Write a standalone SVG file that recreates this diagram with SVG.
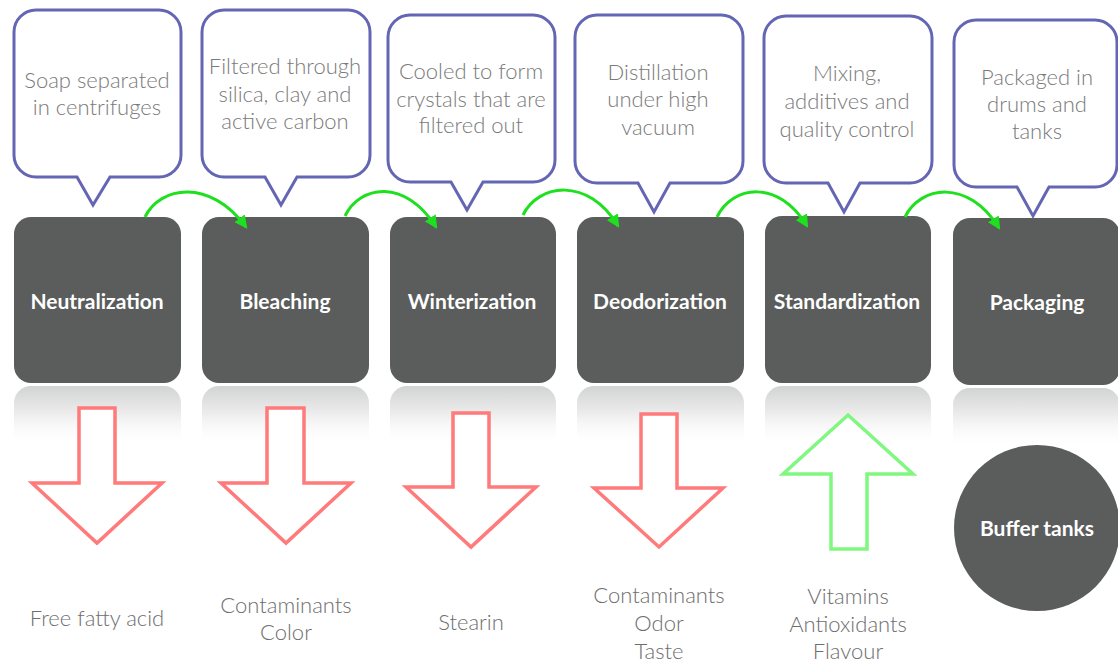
<svg xmlns="http://www.w3.org/2000/svg" width="1118" height="663" viewBox="0 0 1118 663">
<defs>
<linearGradient id="refl" x1="0" y1="0" x2="0" y2="1">
<stop offset="0" stop-color="#d2d3d3"/>
<stop offset="0.45" stop-color="#ececec"/>
<stop offset="1" stop-color="#ffffff" stop-opacity="0"/>
</linearGradient>
<marker id="gh" viewBox="0 0 12 12" refX="10" refY="6" markerWidth="13" markerHeight="13" markerUnits="userSpaceOnUse" orient="auto">
<path d="M0,0 L12,6 L0,12 Z" fill="#1ee01e"/>
</marker>
<style>
.call{fill:#fff;stroke:#6466b4;stroke-width:3}
.box{fill:#5a5d5c}
.refl{fill:url(#refl)}
.lbl{font-family:Lato,"Liberation Sans",sans-serif;font-weight:700;font-size:21px;fill:#fff;text-anchor:middle}
.ct{font-family:Lato,"Liberation Sans",sans-serif;font-weight:300;font-size:22px;fill:#7a7a7a;text-anchor:middle}
.bt{font-family:Lato,"Liberation Sans",sans-serif;font-weight:300;font-size:22px;fill:#6e6e6e;text-anchor:middle}
.red{fill:#fff;stroke:#ff7a7a;stroke-width:3.5}
.grn{fill:#fff;stroke:#80f880;stroke-width:3.5}
.con{fill:none;stroke:#1ee01e;stroke-width:3;marker-end:url(#gh)}
</style>
</defs>
<rect width="1118" height="663" fill="#fff"/>

<g id="callouts">
<g id="callout1"><path class="call" d="M36,10 H159 A22 22 0 0 1 181,32 V155 A22 22 0 0 1 159,177 H110 L93,205 L77,177 H36 A22 22 0 0 1 14,155 V32 A22 22 0 0 1 36,10 Z"/>
<text class="ct" x="97" y="88">Soap separated</text><text class="ct" x="97" y="115">in centrifuges</text></g>
<g id="callout2"><path class="call" d="M224,10 H348 A22 22 0 0 1 370,32 V155 A22 22 0 0 1 348,177 H297 L281,205 L265,177 H224 A22 22 0 0 1 202,155 V32 A22 22 0 0 1 224,10 Z"/>
<text class="ct" x="285" y="74">Filtered through</text><text class="ct" x="285" y="102">silica, clay and</text><text class="ct" x="285" y="129">active carbon</text></g>
<g id="callout3"><path class="call" d="M410,15 H533 A22 22 0 0 1 555,37 V160 A22 22 0 0 1 533,182 H483 L467,210 L451,182 H410 A22 22 0 0 1 388,160 V37 A22 22 0 0 1 410,15 Z"/>
<text class="ct" x="471" y="79">Cooled to form</text><text class="ct" x="471" y="107">crystals that are</text><text class="ct" x="471" y="133">filtered out</text></g>
<g id="callout4"><path class="call" d="M597,15 H721 A22 22 0 0 1 743,37 V161 A22 22 0 0 1 721,183 H670 L654,212 L638,183 H597 A22 22 0 0 1 575,161 V37 A22 22 0 0 1 597,15 Z"/>
<text class="ct" x="658" y="80">Distillation</text><text class="ct" x="658" y="107">under high</text><text class="ct" x="658" y="135">vacuum</text></g>
<g id="callout5"><path class="call" d="M786,16 H910 A22 22 0 0 1 932,38 V161 A22 22 0 0 1 910,183 H860 L844,212 L828,183 H786 A22 22 0 0 1 764,161 V38 A22 22 0 0 1 786,16 Z"/>
<text class="ct" x="847" y="81">Mixing,</text><text class="ct" x="847" y="109">additives and</text><text class="ct" x="847" y="137">quality control</text></g>
<g id="callout6"><path class="call" d="M976,20 H1095 A22 22 0 0 1 1117,42 V165 A22 22 0 0 1 1095,187 H1049 L1033,216 L1017,187 H976 A22 22 0 0 1 954,165 V42 A22 22 0 0 1 976,20 Z"/>
<text class="ct" x="1037" y="85">Packaged in</text><text class="ct" x="1037" y="112">drums and</text><text class="ct" x="1037" y="139">tanks</text></g>
</g>

<g id="reflections">
<path class="refl" d="M14,403 A17 17 0 0 1 31,386 H164 A17 17 0 0 1 181,403 V446 H14 Z"/>
<path class="refl" d="M202,403 A17 17 0 0 1 219,386 H352 A17 17 0 0 1 369,403 V446 H202 Z"/>
<path class="refl" d="M390,403 A17 17 0 0 1 407,386 H539 A17 17 0 0 1 556,403 V446 H390 Z"/>
<path class="refl" d="M577,403 A17 17 0 0 1 594,386 H727 A17 17 0 0 1 744,403 V446 H577 Z"/>
<path class="refl" d="M765,403 A17 17 0 0 1 782,386 H914 A17 17 0 0 1 931,403 V446 H765 Z"/>
<path class="refl" d="M953,405 A17 17 0 0 1 970,388 H1103 A17 17 0 0 1 1120,405 V448 H953 Z"/>
</g>

<g id="n1"><rect class="box" x="14" y="217" width="167" height="166" rx="17"/><text class="lbl" x="97" y="309">Neutralization</text></g>
<g id="n2"><rect class="box" x="202" y="217" width="167" height="166" rx="17"/><text class="lbl" x="285" y="309">Bleaching</text></g>
<g id="n3"><rect class="box" x="390" y="217" width="166" height="166" rx="17"/><text class="lbl" x="472" y="309">Winterization</text></g>
<g id="n4"><rect class="box" x="577" y="217" width="167" height="166" rx="17"/><text class="lbl" x="660" y="309">Deodorization</text></g>
<g id="n5"><rect class="box" x="765" y="216" width="166" height="167" rx="17"/><text class="lbl" x="847" y="309">Standardization</text></g>
<g id="n6"><rect class="box" x="953" y="218" width="167" height="167" rx="17"/><text class="lbl" x="1037" y="310">Packaging</text></g>

<g id="connectors">
<path class="con" d="M145,217 C160,186 210,178 246,227"/>
<path class="con" d="M345,216 C360,185 405,178 436,227"/>
<path class="con" d="M523,215 C538,184 588,176 618,226"/>
<path class="con" d="M717,217 C732,186 778,178 807,226"/>
<path class="con" d="M905,217 C920,186 968,178 999,228"/>
</g>

<g id="outputs">
<g id="a1"><polygon class="red" points="79,408 115,408 115,483 162,483 97,543 32,483 79,483"/><text class="bt" x="97" y="626">Free fatty acid</text></g>
<g id="a2"><polygon class="red" points="267,408 304,408 304,483 351,483 286,543 221,483 267,483"/><text class="bt" x="286" y="613">Contaminants</text><text class="bt" x="286" y="640">Color</text></g>
<g id="a3"><polygon class="red" points="453,413 489,413 489,487 536,487 471,547 406,487 453,487"/><text class="bt" x="471" y="630">Stearin</text></g>
<g id="a4"><polygon class="red" points="641,414 677,414 677,488 723,488 659,547 594,488 641,488"/><text class="bt" x="659" y="603">Contaminants</text><text class="bt" x="659" y="631">Odor</text><text class="bt" x="659" y="659">Taste</text></g>
<g id="a5"><polygon class="grn" points="848,415 913,474 867,474 867,549 831,549 831,474 783,474"/><text class="bt" x="848" y="604">Vitamins</text><text class="bt" x="848" y="632">Antioxidants</text><text class="bt" x="848" y="659">Flavour</text></g>
<g id="buffer"><circle class="box" cx="1037" cy="528" r="83"/><text class="lbl" x="1037" y="536">Buffer tanks</text></g>
</g>
</svg>
